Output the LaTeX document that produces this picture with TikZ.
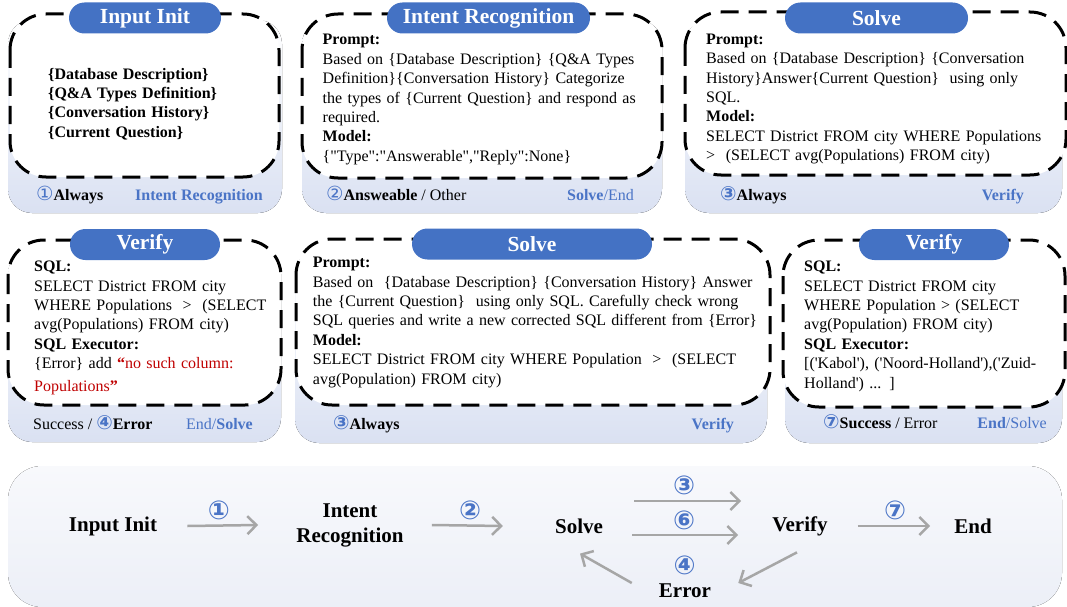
\documentclass[tikz,border=0pt]{standalone}
\usepackage{fontspec}
\setmainfont{Liberation Serif}[Ligatures=TeXOff]
\newfontfamily\sym{DejaVu Sans}
\usetikzlibrary{arrows.meta}
\definecolor{pillblue}{HTML}{4472C4}
\definecolor{lblue}{HTML}{4A74C6}
\definecolor{bgblue}{HTML}{DAE1F2}
\definecolor{arrgray}{HTML}{A6A6A6}
\definecolor{errred}{HTML}{C00000}
\definecolor{flowtop}{HTML}{F8F9FC}
\definecolor{flowbot}{HTML}{ECEFF7}
\newcommand\cn[1]{{\sym\fontsize{19.5}{18}\selectfont\color{lblue}#1}}
\tikzset{
 panelbg/.style={rounded corners=24pt, top color=white, bottom color=bgblue, draw=none},
 dbox/.style={draw=black, line width=3pt, dash pattern=on 18pt off 10pt, rounded corners=36pt, fill=white},
 pill/.style={fill=pillblue, rounded corners=15.5pt, text=white, font=\fontsize{21.5}{24}\selectfont\bfseries, minimum height=31pt, inner sep=0pt},
 body/.style={anchor=base west, align=left, text width=480pt, inner sep=0pt, font=\fontsize{16}{19.4}\selectfont},
 footl/.style={anchor=base west, inner sep=0pt, font=\fontsize{16}{18}\selectfont},
 footr/.style={anchor=base east, inner sep=0pt, font=\fontsize{16}{18}\selectfont, text=lblue},
 flownode/.style={font=\fontsize{21}{25}\selectfont\bfseries, align=center, inner sep=2pt},
 flow/.style={draw=arrgray, line width=2.5pt, -{Straight Barb[length=9pt,width=18pt]}},
 num/.style={text=lblue, font=\sym\bfseries\fontsize{26}{27}\selectfont, inner sep=0pt},
}
\begin{document}
\begin{tikzpicture}[x=1pt,y=-1pt]
\useasboundingbox (0,0) rectangle (1067,607);

% ---------- Panel 1: Input Init
\fill[panelbg] (8,20) rectangle (282,213);
\draw[dbox] (10,14) rectangle (279,177);
\node[pill, minimum width=152pt] (t1) at (145,18) {Input Init};
\node[body, font=\fontsize{16}{19.2}\selectfont\bfseries] (b1) at (48,79.5)
 {\{Database Description\}\\\{Q\&A Types Definition\}\\\{Conversation History\}\\\{Current Question\}};
\node[footl] (f1l) at (36,200) {\cn{①}\textbf{Always}};
\node[footr] (f1r) at (263,200) {\textbf{Intent Recognition}};

% ---------- Panel 2: Intent Recognition
\fill[panelbg] (302,20) rectangle (662,213);
\draw[dbox] (302,14) rectangle (662,178);
\node[pill, minimum width=203pt] (t2) at (488.5,18) {Intent Recognition};
\node[body] (b2) at (322.5,45)
 {\textbf{Prompt:}\\
  Based on \{Database Description\} \{Q\&A Types\\
  Definition\}\{Conversation History\} Categorize\\
  the types of \{Current Question\} and respond as\\
  required.\\
  \textbf{Model:}\\
  \{"Type":"Answerable","Reply":None\}};
\node[footl] (f2l) at (326,200) {\cn{②}\textbf{Answeable} / Other};
\node[footr] (f2r) at (634,200) {\textbf{Solve}/End};

% ---------- Panel 3: Solve
\fill[panelbg] (685,20) rectangle (1062,213);
\draw[dbox] (685,12) rectangle (1066,175);
\node[pill, minimum width=183pt] (t3) at (876.5,18) {Solve};
\node[body] (b3) at (706,44.3)
 {\textbf{Prompt:}\\
  Based on \{Database Description\} \{Conversation\\
  History\}Answer\{Current Question\}\ \ using only\\
  SQL.\\
  \textbf{Model:}\\
  SELECT District FROM city WHERE Populations\\
  >\ \ (SELECT avg(Populations) FROM city)};
\node[footl] (f3l) at (720,200) {\cn{\bfseries ③}\textbf{Always}};
\node[footr] (f3r) at (1024,200) {\textbf{Verify}};

% ---------- Panel 4: Verify (error)
\fill[panelbg] (8,250) rectangle (281,442);
\draw[dbox] (8,240) rectangle (281,405);
\node[pill, minimum width=150pt] (t4) at (145,244.5) {Verify};
\node[body] (b4) at (34,271.7)
 {\textbf{SQL:}\\
  SELECT District FROM city\\
  WHERE Populations\ \ >\ \ (SELECT\\
  avg(Populations) FROM city)\\
  \textbf{SQL Executor:}\\
  \{Error\} add \textcolor{errred}{\textbf{“}no such column:}\\[3pt]
  \textcolor{errred}{Populations\textbf{”}}};
\node[footl] (f4l) at (33,429) {Success / \cn{\bfseries ④}\textbf{Error}};
\node[footr] (f4r) at (253,429) {End/\textbf{Solve}};

% ---------- Panel 5: Solve (retry)
\fill[panelbg] (295,250) rectangle (767,443);
\draw[dbox] (296,239) rectangle (770,405);
\node[pill, minimum width=240pt] (t5) at (532,244) {Solve};
\node[body] (b5) at (312.7,267.7)
 {\textbf{Prompt:}\\
  Based on\ \ \{Database Description\} \{Conversation History\} Answer\\
  the \{Current Question\}\ \ using only SQL. Carefully check wrong\\
  SQL queries and write a new corrected SQL different from \{Error\}\\
  \textbf{Model:}\\
  SELECT District FROM city WHERE Population\ \ >\ \ (SELECT\\
  avg(Population) FROM city)};
\node[footl] (f5l) at (333,429) {\cn{\bfseries ③}\textbf{Always}};
\node[footr] (f5r) at (734,429) {\textbf{Verify}};

% ---------- Panel 6: Verify (success)
\fill[panelbg] (785,250) rectangle (1062,443);
\draw[dbox] (783,240) rectangle (1065,407);
\node[pill, minimum width=150pt] (t6) at (934,244.5) {Verify};
\node[body] (b6) at (804,271.7)
 {\textbf{SQL:}\\
  SELECT District FROM city\\
  WHERE Population > (SELECT\\
  avg(Population) FROM city)\\
  \textbf{SQL Executor:}\\\relax
  {[}('Kabol'), ('Noord-Holland'),('Zuid-\\
  Holland') ... {]}};
\node[footl] (f6l) at (823,428) {\cn{\bfseries ⑦}\textbf{Success} / Error};
\node[footr] (f6r) at (1047,428) {\textbf{End}/Solve};

% ---------- Bottom flow
\fill[rounded corners=34pt, top color=flowtop, bottom color=flowbot] (8,466) rectangle (1062,607);
\node[flownode] (fin) at (113,526) {Input Init};
\node[flownode] (fir) at (350,525) {Intent\\Recognition};
\node[flownode] (fsolve) at (579,526) {Solve};
\node[flownode] (fverify) at (800,526) {Verify};
\node[flownode] (fend) at (973,526) {End};
\node[flownode] (ferror) at (685,591) {Error};

\draw[flow] ([xshift=28pt]fin.east) -- ([xshift=-36pt]fir.west);
\draw[flow] ([xshift=26pt]fir.east) -- ([xshift=-50pt]fsolve.west);
\draw[flow] ([shift={(29,-25)}]fsolve.east) -- ([shift={(-29,-25)}]fverify.west);
\draw[flow] ([shift={(27,9)}]fsolve.east) -- ([shift={(-32,9)}]fverify.west);
\draw[flow] ([xshift=28pt]fverify.east) -- ([xshift=-22pt]fend.west);
\draw[flow] ([shift={(-3,14.5)}]fverify.south) -- ([shift={(25,-8)}]ferror.east);
\draw[flow] ([shift={(-25,-8)}]ferror.west) -- ([shift={(1,18)}]fsolve.south);

\node[num] (n1) at (219,510) {①};
\node[num] (n2) at (470,510) {②};
\node[num] (n3) at (684,485) {③};
\node[num] (n6) at (684,520) {⑥};
\node[num] (n7) at (895,510) {⑦};
\node[num] (n4) at (684.5,565) {④};
\end{tikzpicture}
\end{document}
